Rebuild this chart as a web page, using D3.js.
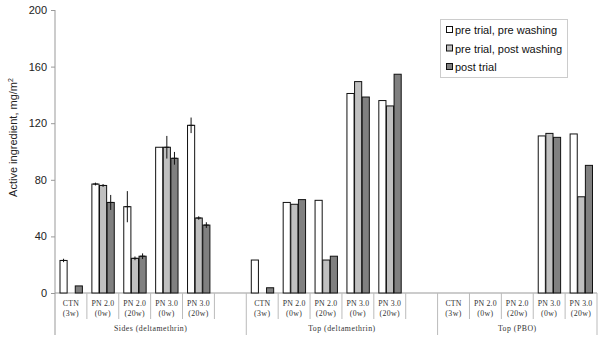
<!DOCTYPE html>
<html><head><meta charset="utf-8">
<script src="https://cdn.jsdelivr.net/npm/d3@7/dist/d3.min.js"></script>
<style>body{margin:0;background:#fff}svg{display:block}</style>
</head><body>
<svg id="c" width="600" height="342"></svg>
<script>
const groups = ["Sides (deltamethrin)", "Top (deltamethrin)", "Top (PBO)"];
const catLine1 = ["CTN", "PN 2.0", "PN 2.0", "PN 3.0", "PN 3.0"];
const catLine2 = ["(3w)", "(0w)", "(20w)", "(0w)", "(20w)"];
const seriesNames = ["pre trial, pre washing", "pre trial, post washing", "post trial"];
const seriesColors = ["#ffffff", "#c0c0c0", "#808080"];
// values per group (5 categories each)
const preWash = [[23, 77, 61, 103, 118.5], [23.3, 64, 65.5, 141, 136], [null, null, null, 111, 112.4]];
const postWash = [[0, 76, 24.5, 103, 53], [null, 62.7, 23.3, 149.4, 132.2], [null, null, null, 112.8, 68]];
const postTrial = [[5, 64, 26, 95.2, 48], [3.7, 66, 26, 138.5, 154.6], [null, null, null, 110, 90.2]];
const preWashErr = [[1.2, 1, 11, 0, 5.5], [], []];
const postWashErr = [[0, 1, 1.3, 8, 1.2], [], []];
const postTrialErr = [[0, 5.3, 2, 4.5, 2], [], []];
const yTicks = [0, 40, 80, 120, 160, 200];

(function () {
const svg = d3.select("#c");
const mLeft = 55, mRight = 597, mTop = 10, mBottom = 293;
const nSlots = 17;
const slotOf = (g, i) => g * 6 + i;
const x = d3.scaleBand().domain(d3.range(nSlots)).range([mLeft, mRight]).padding(0);
const inner = d3.scaleBand().domain([0, 1, 2]).range([4.5, x.bandwidth() - 4.5]).padding(0);
const y = d3.scaleLinear().domain([0, 200]).range([mBottom, mTop]);

// y axis
const yAxis = d3.axisLeft(y).tickValues(yTicks).tickSize(4).tickPadding(4);
const ga = svg.append("g").attr("transform", `translate(${mLeft},0)`).call(yAxis);
ga.select(".domain").remove();
ga.selectAll(".tick line").attr("stroke", "#999");
ga.selectAll(".tick text").attr("font-family", "Liberation Sans, Arial, sans-serif").attr("font-size", 11).attr("fill", "#222");
svg.append("line").attr("x1", mLeft).attr("x2", mLeft).attr("y1", mTop).attr("y2", 335).attr("stroke", "#999");
// x axis line
svg.append("line").attr("x1", mLeft).attr("x2", mRight).attr("y1", mBottom).attr("y2", mBottom).attr("stroke", "#999");

// y title
svg.append("text").attr("transform", `translate(17,${(mTop + mBottom) / 2 - 14}) rotate(-90)`)
  .attr("text-anchor", "middle").attr("font-family", "Liberation Sans, Arial, sans-serif").attr("font-size", 11).attr("fill", "#222")
  .text("Active ingredient, mg/m").append("tspan").attr("font-size", 7).attr("dy", -4).text("2");

// category separators and labels
const serif = "Liberation Serif, Times New Roman, serif";
const groupBounds = [0, 6, 12, 17];
for (let s = 1; s < nSlots; s++) {
  if (groupBounds.includes(s)) continue;
  const xs = x(s);
  svg.append("line").attr("x1", xs).attr("x2", xs).attr("y1", mBottom).attr("y2", 319).attr("stroke", "#bbb");
}
groupBounds.slice(1).forEach(s => {
  const xs = s === nSlots ? mRight : x(s);
  svg.append("line").attr("x1", xs).attr("x2", xs).attr("y1", mBottom).attr("y2", 335).attr("stroke", "#bbb");
});
groups.forEach((gname, g) => {
  catLine1.forEach((c, i) => {
    const cx = x(slotOf(g, i)) + x.bandwidth() / 2;
    svg.append("text").attr("x", cx).attr("y", 306).attr("text-anchor", "middle").attr("font-family", serif).attr("font-size", 7.8).attr("letter-spacing", 0.2).attr("fill", "#333").text(c);
    svg.append("text").attr("x", cx).attr("y", 316).attr("text-anchor", "middle").attr("font-family", serif).attr("font-size", 7.8).attr("letter-spacing", 0.4).attr("fill", "#333").text(catLine2[i]);
  });
  const gx0 = x(groupBounds[g]);
  const gx1 = groupBounds[g + 1] === nSlots ? mRight : x(groupBounds[g + 1]);
  svg.append("text").attr("x", (gx0 + gx1) / 2).attr("y", 331).attr("text-anchor", "middle").attr("font-family", serif).attr("font-size", 7.8).attr("letter-spacing", 0.5).attr("fill", "#333").text(gname);
});

// bars
const series = [preWash, postWash, postTrial];
const errs = [preWashErr, postWashErr, postTrialErr];
series.forEach((sv, k) => {
  sv.forEach((vals, g) => {
    vals.forEach((v, i) => {
      if (v == null) return;
      const bx = x(slotOf(g, i)) + inner(k);
      svg.append("rect").attr("x", bx + 0.5).attr("y", y(v)).attr("width", inner.bandwidth() - 0.5).attr("height", y(0) - y(v))
        .attr("fill", seriesColors[k]).attr("stroke", "#111").attr("stroke-width", 1);
      const e = errs[k][g][i];
      if (e) {
        const cx = bx + inner.bandwidth() / 2 + 0.25;
        svg.append("line").attr("x1", cx).attr("x2", cx).attr("y1", y(v + e)).attr("y2", y(v - e)).attr("stroke", "#111").attr("stroke-width", 1);
        svg.append("line").attr("x1", cx - 2.5).attr("x2", cx + 2.5).attr("y1", y(v)).attr("y2", y(v)).attr("stroke", "#111").attr("stroke-width", 1);
      }
    });
  });
});

// legend
const lg = svg.append("g");
lg.append("rect").attr("x", 440.5).attr("y", 19.5).attr("width", 127).attr("height", 58).attr("fill", "#fff").attr("stroke", "#ccc");
seriesNames.forEach((n, k) => {
  const cy = 30 + k * 18.5;
  lg.append("rect").attr("x", 446.5).attr("y", cy - 3.5).attr("width", 6).attr("height", 6).attr("fill", seriesColors[k]).attr("stroke", "#111");
  lg.append("text").attr("x", 455).attr("y", cy + 4).attr("font-family", "Liberation Sans, Arial, sans-serif").attr("font-size", 11).attr("fill", "#111").text(n);
});
})();
</script>
</body></html>
